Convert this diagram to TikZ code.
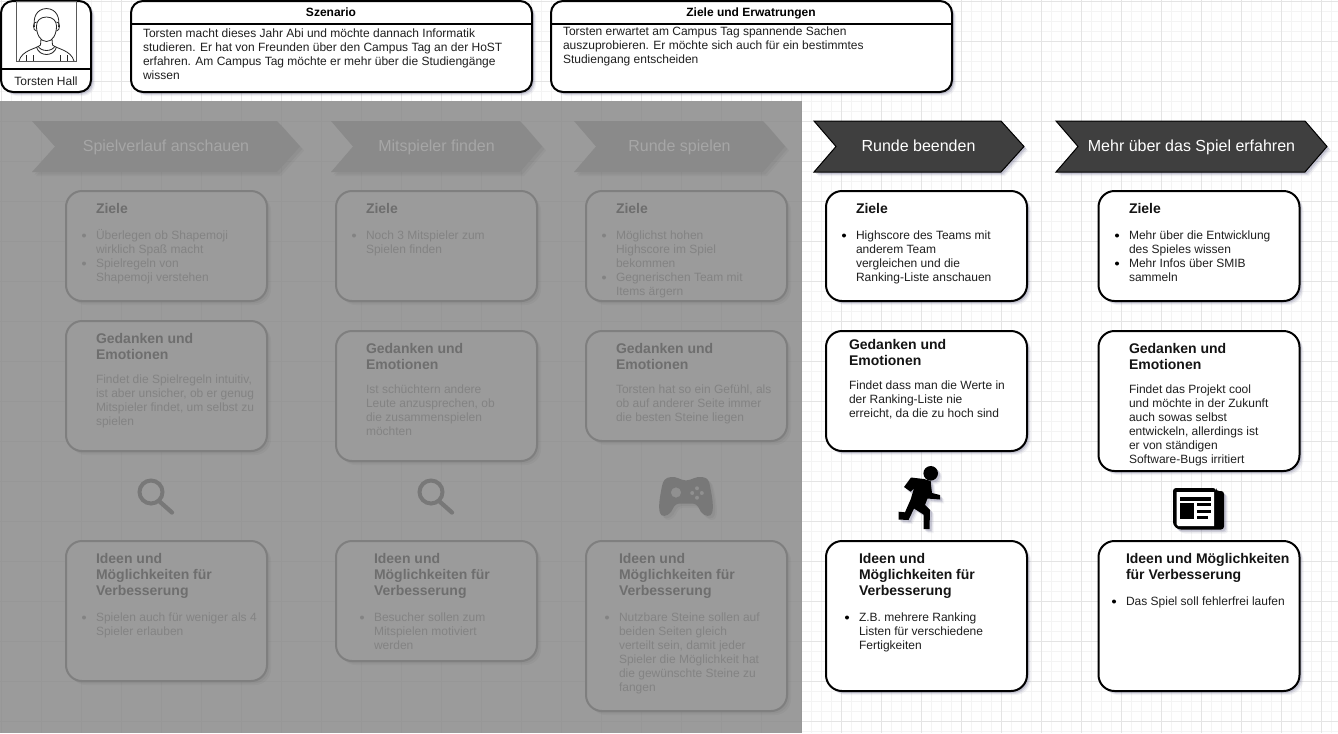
\documentclass[tikz,border=0pt]{standalone}
\usepackage{fontspec}
\setmainfont{Liberation Sans}
\usetikzlibrary{shadows}
\definecolor{gridminor}{HTML}{F4F4F4}
\definecolor{gridmajor}{HTML}{E4E4E4}
\definecolor{panelbg}{HTML}{9B9B9B}
\definecolor{panelgrid}{HTML}{979797}
\definecolor{fadeedge}{HTML}{7F7F7F}
\definecolor{fadechev}{HTML}{8A8A8A}
\definecolor{fadetitle}{HTML}{A6A6A6}
\definecolor{fadehead}{HTML}{6E6E6E}
\definecolor{fadebody}{HTML}{838383}
\definecolor{fadeicon}{HTML}{787878}
\definecolor{livechev}{HTML}{3F3F3F}
\definecolor{shadowblue}{HTML}{50507A}
\tikzset{
  softshadow/.style={
    general shadow={fill=shadowblue,opacity=.07,shadow xshift=3pt,shadow yshift=-3pt},
    general shadow={fill=shadowblue,opacity=.12,shadow xshift=2.2pt,shadow yshift=-2.2pt},
    general shadow={fill=shadowblue,opacity=.18,shadow xshift=1.4pt,shadow yshift=-1.4pt}},
  fadeshadow/.style={
    general shadow={fill=black,opacity=.03,shadow xshift=3pt,shadow yshift=-3pt},
    general shadow={fill=black,opacity=.04,shadow xshift=1.8pt,shadow yshift=-1.8pt}},
  livebox/.style={draw=black,fill=white,line width=1.5pt,rounded corners=12pt,inner sep=0pt,outer sep=0pt,softshadow},
  fadebox/.style={draw=fadeedge,fill=panelbg,line width=1.5pt,rounded corners=12pt,inner sep=0pt,outer sep=0pt,fadeshadow},
  headbox/.style={draw=black,fill=white,line width=1.5pt,rounded corners=9pt,inner sep=0pt,outer sep=0pt,softshadow},
  livechevron/.style={draw=black,fill=livechev,line width=.75pt,softshadow},
  fadechevron/.style={fill=fadechev,fadeshadow},
  txt/.style={inner sep=0pt,outer sep=0pt,align=left,anchor=north west},
  lbody/.style={txt,font=\fontsize{9}{10.5}\selectfont,text=black!88},
  lhead/.style={txt,font=\fontsize{10.5}{12}\selectfont\bfseries,text=black!92},
  fbody/.style={txt,font=\fontsize{9}{10.5}\selectfont,text=fadebody},
  fhead/.style={txt,font=\fontsize{10.5}{12}\selectfont\bfseries,text=fadehead},
  chevtext/.style={inner sep=0pt,anchor=base,font=\fontsize{12}{14}\selectfont},
  titletext/.style={inner sep=0pt,anchor=base,font=\fontsize{9}{10.5}\selectfont\bfseries},
  bull/.style={circle,inner sep=0pt,outer sep=0pt,minimum size=3pt}
}
% #1 name, #2 style, #3..#6 x1 y1 x2 y2
\newcommand{\bx}[6]{\node[#2,minimum width={(#5-#3)*0.75pt},minimum height={(#6-#4)*0.75pt}] (#1) at ({(#3+#5)/2},{(#4+#6)/2}) {};}
% #1 name, #2 style, #3 x, #4 centre of the first line, #5 lines
\newcommand{\bodyt}[5]{\node[#2] (#1) at (#3,{#4-5.8}) {\strut #5};}
\newcommand{\headt}[5]{\node[#2] (#1) at (#3,{#4-6.2}) {\strut #5};}
\newcommand{\bu}[4]{\node[bull,fill=#4] (#1) at (#2,{#3+0.5}) {};}
% #1 name, #2 style, #3 text colour, #4 left, #5 notch, #6 shoulder, #7 tip, #8 text
\newcommand{\chev}[8]{%
  \path[#2] (#4,121) -- (#6,121) -- (#7,146.5) -- (#6,172) -- (#4,172) -- (#5,146.5) -- cycle;
  \node[chevtext,text=#3] (#1) at ({(#5+#6)/2},151.5) {#8};}
\begin{document}
\begin{tikzpicture}[x=0.75pt,y=-0.75pt]
\useasboundingbox (0,0) rectangle (1338,733);
\fill[white] (0,0) rectangle (1338,733);
% grid
\foreach \i in {0,...,133} {\draw[gridminor,line width=.6pt] ({1.5+10*\i},0) -- ({1.5+10*\i},733);}
\foreach \i in {0,...,73} {\draw[gridminor,line width=.6pt] (0,{1.7+10*\i}) -- (1338,{1.7+10*\i});}
\foreach \i in {0,...,33} {\draw[gridmajor,line width=.6pt] ({1.5+40*\i},0) -- ({1.5+40*\i},733);}
\foreach \i in {0,...,18} {\draw[gridmajor,line width=.6pt] (0,{1.7+40*\i}) -- (1338,{1.7+40*\i});}
% faded panel
\fill[panelbg] (0,101) rectangle (801,733);
\foreach \i in {0,...,20} {\draw[panelgrid,line width=.5pt] ({1.5+40*\i},101) -- ({1.5+40*\i},733);}
\foreach \i in {3,...,18} {\draw[panelgrid,line width=.5pt] (0,{1.7+40*\i}) -- (801,{1.7+40*\i});}

% --- header
\bx{person}{headbox}{1}{1}{91}{92}
\draw[black,line width=1.5pt] (1,69) -- (91,69);
\draw[black!65,line width=.75pt] (16.3,1.5) rectangle (76.3,61.5);
\begin{scope}[black!85,line width=.6pt]
  \draw (46.5,41.5) .. controls (40,41.5) and (36.5,34) .. (36.5,26) .. controls (36.5,21) and (40,17) .. (46.5,17) .. controls (53,17) and (56.5,21) .. (56.5,26) .. controls (56.5,34) and (53,41.5) .. (46.5,41.5);
  \draw (34.5,27) .. controls (33,18) and (36,9) .. (46.5,8.5) .. controls (57,9) and (60,18) .. (58.5,27);
  \draw (36.5,22) .. controls (32.5,21) and (32.5,31) .. (36.5,31);
  \draw (56.5,22) .. controls (60.5,21) and (60.5,31) .. (56.5,31);
  \draw (41,39) -- (40.5,45) .. controls (36,49) and (22,50) .. (19,61);
  \draw (52,39) -- (52.5,45) .. controls (57,49) and (71,50) .. (74,61);
  \draw (36.5,47) .. controls (39,57) and (54,57) .. (56.5,47);
  \draw (38,46) .. controls (41,52) and (52,52) .. (55,46);
  \draw (26,61) -- (26,55);  \draw (33,61) -- (33,55);
  \draw (60,61) -- (60,55);  \draw (67,61) -- (67,55);
\end{scope}
\node[inner sep=0pt,anchor=base,font=\fontsize{9}{10.5}\selectfont,text=black!88] (personname) at (46,85.5) {Torsten Hall};

\bx{scen}{headbox}{131}{1}{532}{92}
\draw[black,line width=1.5pt] (131,24) -- (532,24);
\node[titletext] (scentitle) at (331,16) {Szenario};
\bodyt{scenbody}{lbody}{143}{33}{Torsten macht dieses Jahr Abi und möchte dannach Informatik\\studieren. Er hat von Freunden über den Campus Tag an der HoST\\erfahren. Am Campus Tag möchte er mehr über die Studiengänge\\wissen}

\bx{goal}{headbox}{551}{1}{952}{92}
\draw[black,line width=1.5pt] (551,24) -- (952,24);
\node[titletext] (goaltitle) at (751,16) {Ziele und Erwatrungen};
\bodyt{goalbody}{lbody}{563}{31}{Torsten erwartet am Campus Tag spannende Sachen\\auszuprobieren. Er möchte sich auch für ein bestimmtes\\Studiengang entscheiden}

% --- chevrons
\chev{c1}{fadechevron}{fadetitle}{32}{55}{277}{300}{Spielverlauf anschauen}
\chev{c2}{fadechevron}{fadetitle}{331}{353}{520}{542}{Mitspieler finden}
\chev{c3}{fadechevron}{fadetitle}{574}{596}{763}{785}{Runde spielen}
\chev{c4}{livechevron}{white}{814}{836}{1001}{1024}{Runde beenden}
\chev{c5}{livechevron}{white}{1056}{1078}{1305}{1327}{Mehr über das Spiel erfahren}

% --- column A
\bx{a1}{fadebox}{66}{191}{267}{301}
\headt{a1h}{fhead}{96}{208}{Ziele}
\bu{a1p}{84}{235}{fadebody}\bu{a1q}{84}{263}{fadebody}
\bodyt{a1b}{fbody}{96}{235}{Überlegen ob Shapemoji\\wirklich Spaß macht\\Spielregeln von\\Shapemoji verstehen}
\bx{a2}{fadebox}{66}{321}{267}{451}
\headt{a2h}{fhead}{96}{338}{Gedanken und\\Emotionen}
\bodyt{a2b}{fbody}{96}{379}{Findet die Spielregeln intuitiv,\\ist aber unsicher, ob er genug\\Mitspieler findet, um selbst zu\\spielen}
\bx{a3}{fadebox}{66}{541}{267}{681}
\headt{a3h}{fhead}{96}{558}{Ideen und\\Möglichkeiten für\\Verbesserung}
\bu{a3p}{84}{617}{fadebody}
\bodyt{a3b}{fbody}{96}{617}{Spielen auch für weniger als 4\\Spieler erlauben}
% --- column B
\bx{b1}{fadebox}{336}{191}{537}{301}
\headt{b1h}{fhead}{366}{208}{Ziele}
\bu{b1p}{354}{235}{fadebody}
\bodyt{b1b}{fbody}{366}{235}{Noch 3 Mitspieler zum\\Spielen finden}
\bx{b2}{fadebox}{336}{331}{537}{461}
\headt{b2h}{fhead}{366}{348}{Gedanken und\\Emotionen}
\bodyt{b2b}{fbody}{366}{389}{Ist schüchtern andere\\Leute anzusprechen, ob\\die zusammenspielen\\möchten}
\bx{b3}{fadebox}{336}{541}{537}{661}
\headt{b3h}{fhead}{374}{558}{Ideen und\\Möglichkeiten für\\Verbesserung}
\bu{b3p}{362}{617}{fadebody}
\bodyt{b3b}{fbody}{374}{617}{Besucher sollen zum\\Mitspielen motiviert\\werden}
% --- column C
\bx{d1}{fadebox}{586}{191}{787}{301}
\headt{d1h}{fhead}{616}{208}{Ziele}
\bu{d1p}{604}{235}{fadebody}\bu{d1q}{604}{277}{fadebody}
\bodyt{d1b}{fbody}{616}{235}{Möglichst hohen\\Highscore im Spiel\\bekommen\\Gegnerischen Team mit\\Items ärgern}
\bx{d2}{fadebox}{586}{331}{787}{441}
\headt{d2h}{fhead}{616}{348}{Gedanken und\\Emotionen}
\bodyt{d2b}{fbody}{616}{389}{Torsten hat so ein Gefühl, als\\ob auf anderer Seite immer\\die besten Steine liegen}
\bx{d3}{fadebox}{586}{541}{787}{711}
\headt{d3h}{fhead}{619}{558}{Ideen und\\Möglichkeiten für\\Verbesserung}
\bu{d3p}{607}{617}{fadebody}
\bodyt{d3b}{fbody}{619}{617}{Nutzbare Steine sollen auf\\beiden Seiten gleich\\verteilt sein, damit jeder\\Spieler die Möglichkeit hat\\die gewünschte Steine zu\\fangen}
% --- column D
\bx{e1}{livebox}{826}{191}{1027}{301}
\headt{e1h}{lhead}{856}{208}{Ziele}
\bu{e1p}{844}{235}{black}
\bodyt{e1b}{lbody}{856}{235}{Highscore des Teams mit\\anderem Team\\vergleichen und die\\Ranking-Liste anschauen}
\bx{e2}{livebox}{826}{331}{1027}{451}
\headt{e2h}{lhead}{849}{344}{Gedanken und\\Emotionen}
\bodyt{e2b}{lbody}{849}{385}{Findet dass man die Werte in\\der Ranking-Liste nie\\erreicht, da die zu hoch sind}
\bx{e3}{livebox}{826}{541}{1027}{691}
\headt{e3h}{lhead}{859}{558}{Ideen und\\Möglichkeiten für\\Verbesserung}
\bu{e3p}{847}{617}{black}
\bodyt{e3b}{lbody}{859}{617}{Z.B. mehrere Ranking\\Listen für verschiedene\\Fertigkeiten}
% --- column E
\bx{f1}{livebox}{1098.5}{191}{1299.5}{301}
\headt{f1h}{lhead}{1129}{208}{Ziele}
\bu{f1p}{1117}{235}{black}\bu{f1q}{1117}{263}{black}
\bodyt{f1b}{lbody}{1129}{235}{Mehr über die Entwicklung\\des Spieles wissen\\Mehr Infos über SMIB\\sammeln}
\bx{f2}{livebox}{1098.5}{331}{1299.5}{471}
\headt{f2h}{lhead}{1129}{348}{Gedanken und\\Emotionen}
\bodyt{f2b}{lbody}{1129}{389}{Findet das Projekt cool\\und möchte in der Zukunft\\auch sowas selbst\\entwickeln, allerdings ist\\er von ständigen\\Software-Bugs irritiert}
\bx{f3}{livebox}{1098.5}{541}{1299.5}{691}
\headt{f3h}{lhead}{1126}{558}{Ideen und Möglichkeiten\\für Verbesserung}
\bu{f3p}{1114}{601}{black}
\bodyt{f3b}{lbody}{1126}{601}{Das Spiel soll fehlerfrei laufen}

% --- icons: magnifiers
\foreach \mx in {156,436} {
  \draw[fadeicon,line width=3pt] (\mx-5,492) circle[radius=11.5];
  \draw[fadeicon,line width=3.2pt,line cap=round] (\mx+3,501) -- (\mx+16,512.5);
}
% controller
\fill[fadeicon,even odd rule,fadeshadow]
  (671,477) .. controls (676,476) and (680,480) .. (686,480.5)
  .. controls (692,480) and (696,476) .. (702,477)
  .. controls (708,477.5) and (709,481) .. (710,486)
  .. controls (712,496) and (714,507) .. (712,513)
  .. controls (711,517) and (705,517) .. (701,512)
  .. controls (699,509) and (698,504) .. (693,503.5)
  -- (679,503.5)
  .. controls (674,504) and (673,509) .. (671,512)
  .. controls (667,517) and (661,517) .. (660,513)
  .. controls (658,507) and (660,496) .. (662,486)
  .. controls (663,481) and (665,477.5) .. (671,477) -- cycle
  (676,492.5) circle[radius=5.2]
  (697,488.3) circle[radius=2.1] (697,497.7) circle[radius=2.1]
  (692.2,493) circle[radius=2.1] (701.8,493) circle[radius=2.1];
% runner
\fill[black,softshadow] (930.7,473.3) circle[radius=7.3];
\fill[black,line join=round,softshadow] (904,487) -- (911,477.5) -- (924,479) -- (930.7,481) -- (931,485) -- (932,493) -- (940,495) -- (940,499.5) -- (927.5,498.5) -- (925,505) -- (930,510) -- (929.5,529) -- (923.5,529) -- (923.5,514.5) -- (914,508.5) -- (908.5,520) -- (898.5,519.5) -- (898.5,511.7) -- (905,512.3) -- (910.7,499.3) -- (914,488.3) -- (910.7,491.7) -- cycle;
% newspaper
\fill[black,rounded corners=2.2pt,softshadow] (1173,488) -- (1216,488) -- (1216,491) -- (1224,491) -- (1224,529.5) -- (1178,529.5) -- (1173,525) -- cycle;
\fill[white] (1176.5,492) -- (1214,492) -- (1214,526) -- (1178,526) -- (1176.5,524) -- cycle;
\fill[black] (1180,496.5) rectangle (1211,500.5);
\fill[black] (1180,503) rectangle (1194,518.5);
\fill[black] (1197,503) rectangle (1211,506);
\fill[black] (1197,509.5) rectangle (1211,512.5);
\fill[black] (1197,516) rectangle (1208,519);
\end{tikzpicture}
\end{document}
